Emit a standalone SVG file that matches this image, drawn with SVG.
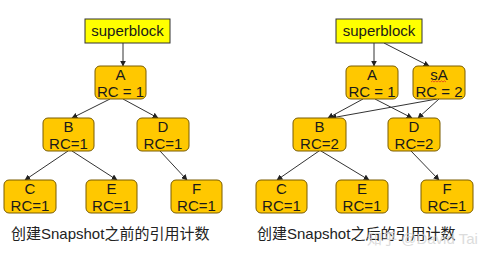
<svg xmlns="http://www.w3.org/2000/svg" width="489" height="263" viewBox="0 0 489 263">
<style>
.sb{fill:#FFFF00;stroke:#333;stroke-width:1}
.nd{fill:#FFC800;stroke:#7A5C00;stroke-width:1}
.t{font-family:"Liberation Sans",Arial,sans-serif;font-size:15px;fill:#1a1a1a;text-anchor:middle}
.cap{font-family:"Liberation Sans","Noto Sans CJK SC",sans-serif;font-size:15px;fill:#222}
.wm{font-family:"Liberation Sans","Noto Sans CJK SC",sans-serif;font-size:15px;fill:#d4d4d4;opacity:0.8}
.e{stroke:#333;stroke-width:1;fill:none;marker-end:url(#ah)}
</style>
<defs>
<marker id="ah" viewBox="0 0 10 10" refX="9" refY="5" markerWidth="6" markerHeight="6" orient="auto" markerUnits="userSpaceOnUse">
<path d="M0,0 L10,5 L0,10 z" fill="#222"/>
</marker>
</defs>
<rect width="489" height="263" fill="#fff"/>
<g id="connectors">
<line class="e" x1="123" y1="43" x2="123" y2="66"/>
<line class="e" x1="110" y1="99" x2="72" y2="118"/>
<line class="e" x1="123" y1="99" x2="158" y2="118"/>
<line class="e" x1="68" y1="151" x2="25" y2="180"/>
<line class="e" x1="72" y1="151" x2="117" y2="180"/>
<line class="e" x1="160" y1="151" x2="187" y2="180"/>
<line class="e" x1="374" y1="43" x2="374" y2="66"/>
<line class="e" x1="384" y1="43" x2="429" y2="66"/>
<line class="e" x1="363" y1="99" x2="328" y2="118"/>
<line class="e" x1="375" y1="99" x2="412" y2="118"/>
<line class="e" x1="437" y1="99" x2="331" y2="118"/>
<line class="e" x1="439" y1="99" x2="418" y2="118"/>
<line class="e" x1="319" y1="151" x2="277" y2="180"/>
<line class="e" x1="321" y1="151" x2="369" y2="180"/>
<line class="e" x1="411" y1="151" x2="439" y2="180"/>
</g>
<g id="superblock1"><rect class="sb" x="85" y="19" width="85" height="24"/><text class="t" x="127.5" y="36">superblock</text></g>
<g id="A1"><rect class="nd" x="95" y="66" width="51" height="33" rx="5"/><text class="t" x="120.5" y="80">A</text><text class="t" x="120.5" y="97">RC = 1</text></g>
<g id="B1"><rect class="nd" x="43" y="118" width="51" height="33" rx="5"/><text class="t" x="68.5" y="132">B</text><text class="t" x="68.5" y="149">RC=1</text></g>
<g id="D1"><rect class="nd" x="137" y="118" width="52" height="33" rx="5"/><text class="t" x="163" y="132">D</text><text class="t" x="163" y="149">RC=1</text></g>
<g id="C1"><rect class="nd" x="4" y="180" width="52" height="33" rx="5"/><text class="t" x="30" y="194">C</text><text class="t" x="30" y="211">RC=1</text></g>
<g id="E1"><rect class="nd" x="86" y="180" width="51" height="33" rx="5"/><text class="t" x="111.5" y="194">E</text><text class="t" x="111.5" y="211">RC=1</text></g>
<g id="F1"><rect class="nd" x="171" y="180" width="51" height="33" rx="5"/><text class="t" x="196.5" y="194">F</text><text class="t" x="196.5" y="211">RC=1</text></g>
<g id="superblock2"><rect class="sb" x="336" y="19" width="86" height="24"/><text class="t" x="379" y="36">superblock</text></g>
<g id="A2"><rect class="nd" x="346" y="66" width="52" height="33" rx="5"/><text class="t" x="372" y="80">A</text><text class="t" x="372" y="97">RC = 1</text></g>
<g id="sA"><rect class="nd" x="413" y="66" width="52" height="33" rx="5"/><text class="t" x="439" y="80">sA</text><path d="M431,82 l1.5,-1.2 l1.5,1.2 l1.5,-1.2 l1.5,1.2 l1.5,-1.2 l1.5,1.2 l1.5,-1.2 l1.5,1.2 l1.5,-1.2 l1.5,1.2" fill="none" stroke="#d22" stroke-width="0.7"/><text class="t" x="439" y="97">RC = 2</text></g>
<g id="B2"><rect class="nd" x="293" y="118" width="53" height="33" rx="5"/><text class="t" x="319.5" y="132">B</text><text class="t" x="319.5" y="149">RC=2</text></g>
<g id="D2"><rect class="nd" x="388" y="118" width="52" height="33" rx="5"/><text class="t" x="414" y="132">D</text><text class="t" x="414" y="149">RC=2</text></g>
<g id="C2"><rect class="nd" x="256" y="180" width="51" height="33" rx="5"/><text class="t" x="281.5" y="194">C</text><text class="t" x="281.5" y="211">RC=1</text></g>
<g id="E2"><rect class="nd" x="336" y="180" width="52" height="33" rx="5"/><text class="t" x="362" y="194">E</text><text class="t" x="362" y="211">RC=1</text></g>
<g id="F2"><rect class="nd" x="421" y="180" width="52" height="33" rx="5"/><text class="t" x="447" y="194">F</text><text class="t" x="447" y="211">RC=1</text></g>
<text class="cap" x="11" y="239">创建Snapshot之前的引用计数</text>
<text class="cap" x="257" y="239">创建Snapshot之后的引用计数</text>
<text class="wm" x="367" y="244">知乎 @David Tai</text>
</svg>
